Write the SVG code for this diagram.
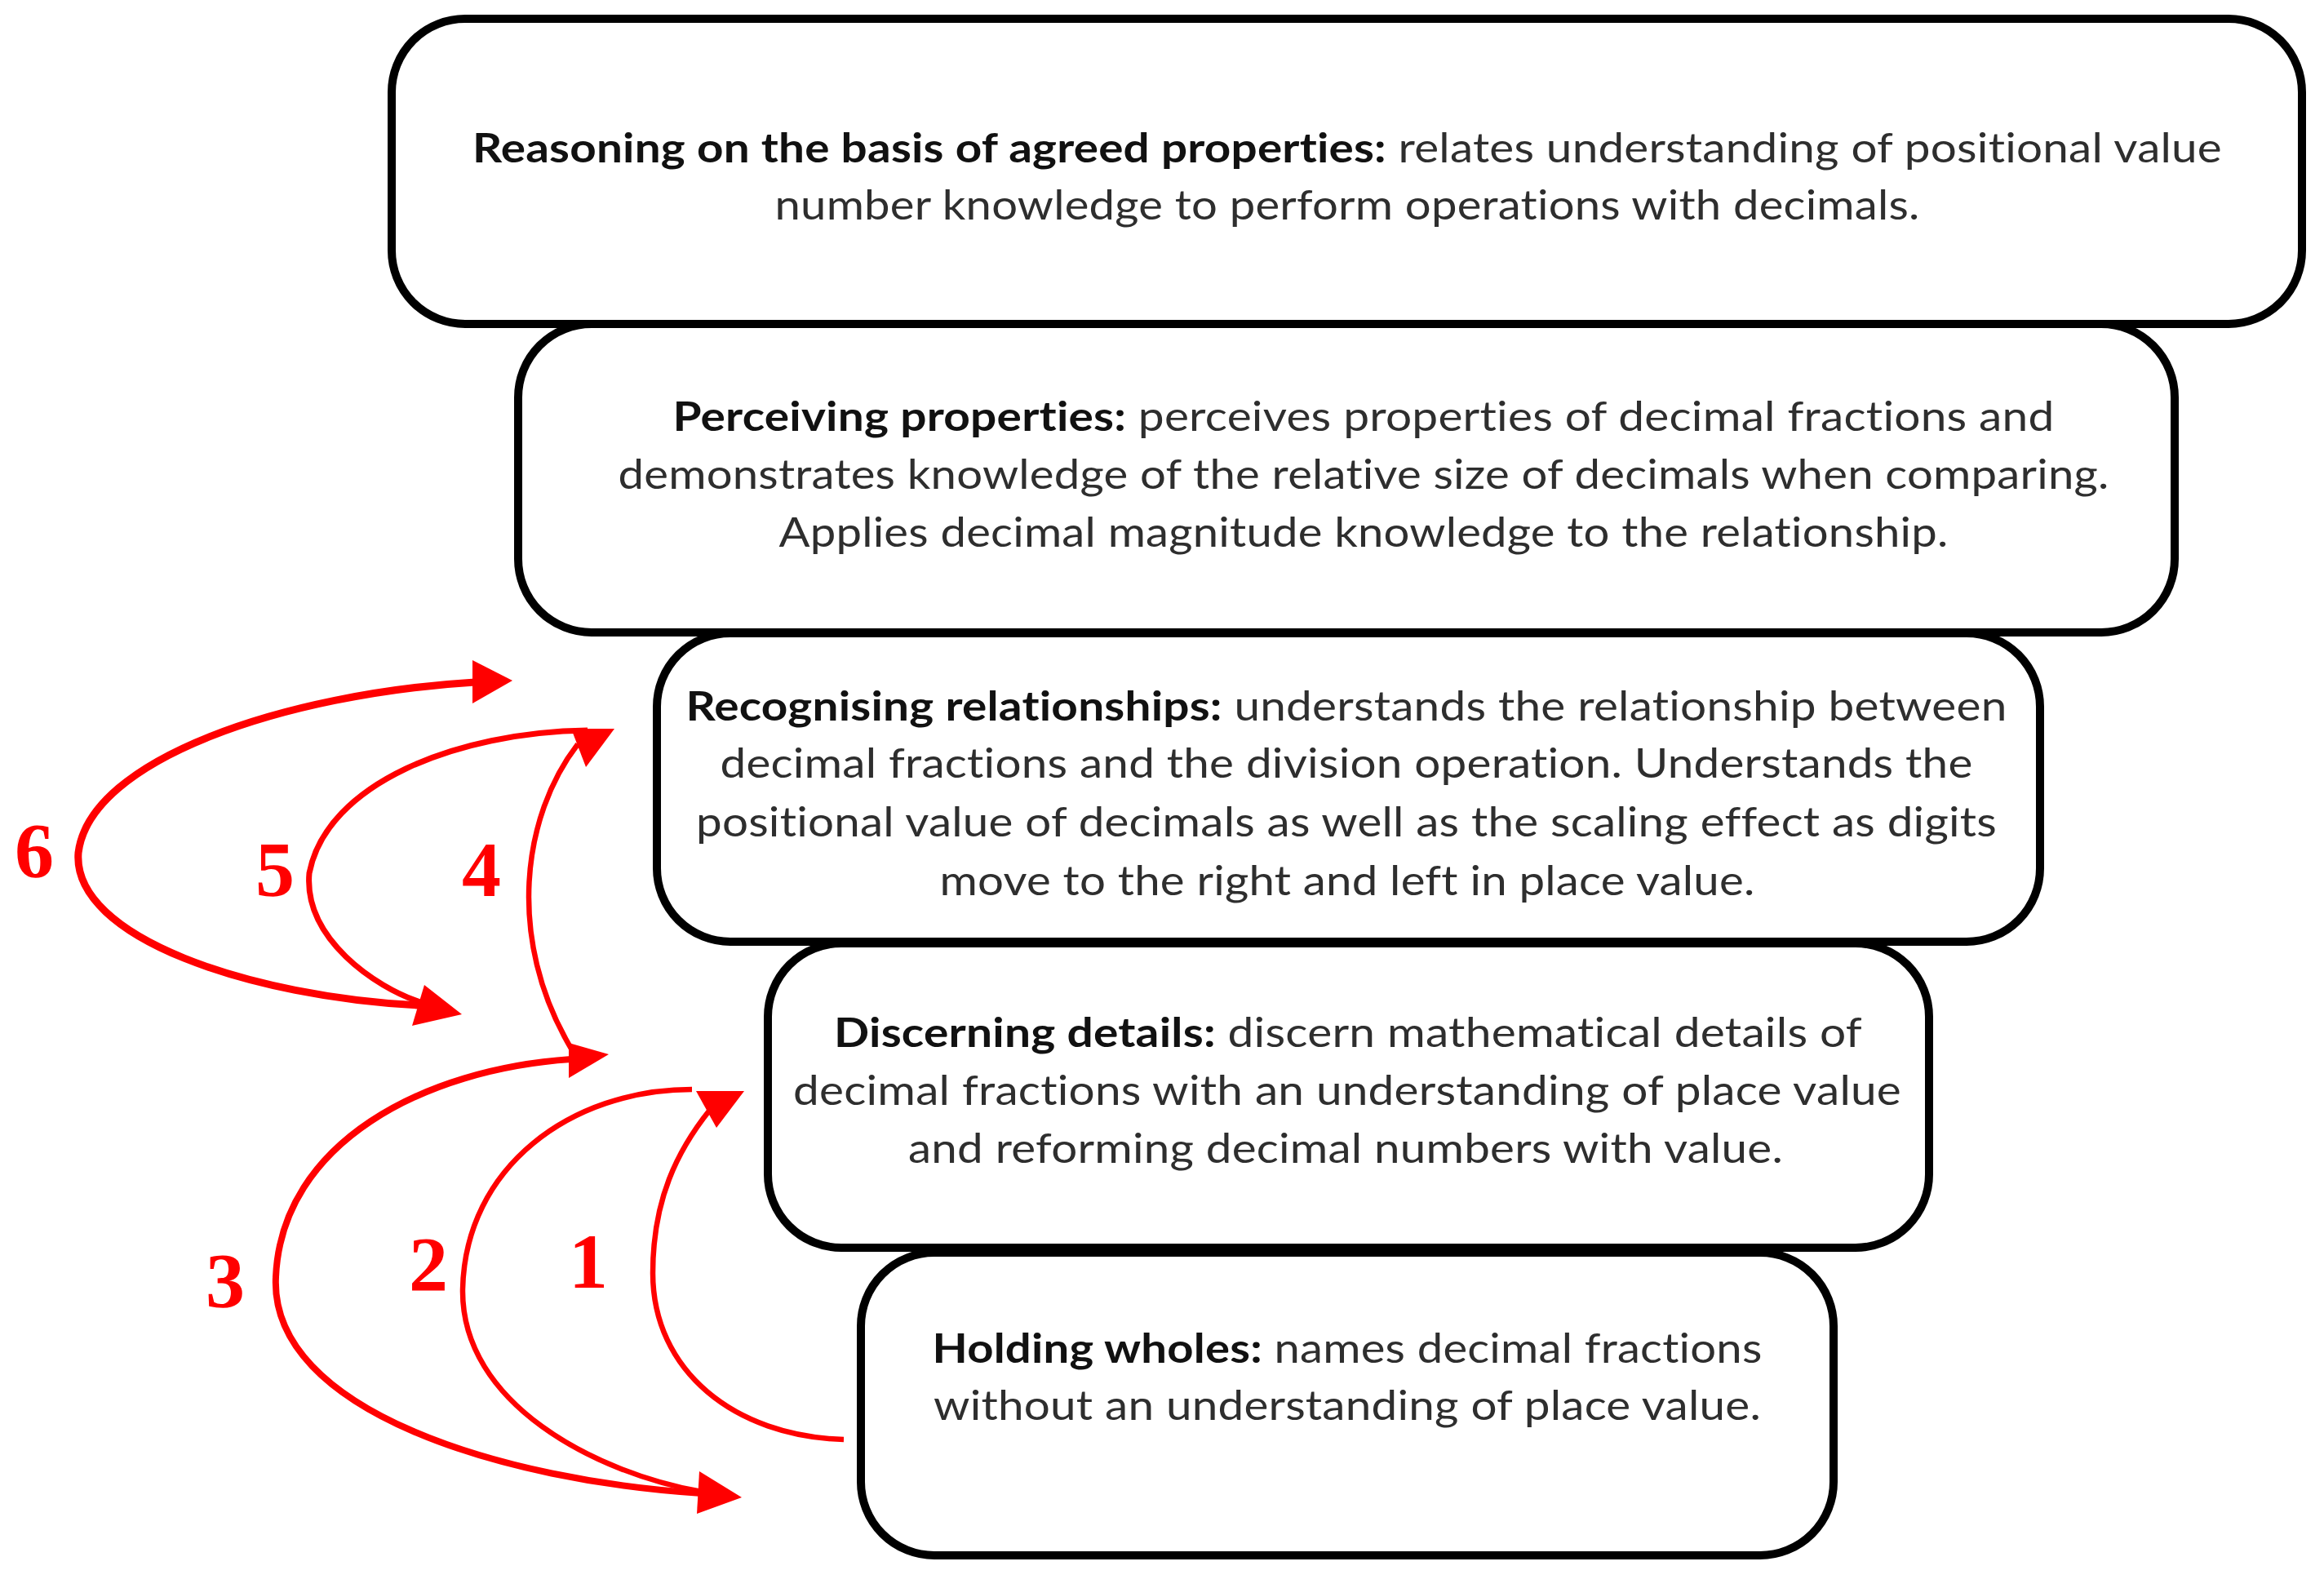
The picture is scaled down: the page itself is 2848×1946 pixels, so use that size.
<svg xmlns="http://www.w3.org/2000/svg" width="2848" height="1946" viewBox="0 0 2848 1946">
<style>
.box{fill:#fff;stroke:#000;stroke-width:10}
.t{font-family:Lato,"Open Sans","Liberation Sans",sans-serif;font-size:50px;fill:#2e2e2e;text-anchor:middle;font-variant-ligatures:none;font-feature-settings:"liga" 0,"clig" 0,"dlig" 0;letter-spacing:0.2px}
.b{font-weight:bold;fill:#111}
.arc{fill:none;stroke:#f00;stroke-linecap:butt}
.hd{fill:#f00;stroke:none}
.num{font-family:"Liberation Serif","Times New Roman",serif;font-weight:bold;font-size:96px;fill:#f00;text-anchor:middle}
</style>
<rect width="2848" height="1946" fill="#fff"/>
<g id="node-reasoning">
<rect class="box" x="480" y="23" width="2341" height="374" rx="90" ry="90"/>
<text class="t" x="1651" y="199" textLength="2144" lengthAdjust="spacingAndGlyphs"><tspan class="b">Reasoning on the basis of agreed properties:</tspan> relates understanding of positional value</text>
<text class="t" x="1651" y="269" textLength="1403" lengthAdjust="spacingAndGlyphs">number knowledge to perform operations with decimals.</text>
</g>
<g id="node-perceiving">
<rect class="box" x="635" y="397" width="2030" height="378" rx="90" ry="90"/>
<text class="t" x="1671" y="528" textLength="1693" lengthAdjust="spacingAndGlyphs"><tspan class="b">Perceiving properties:</tspan> perceives properties of decimal fractions and</text>
<text class="t" x="1671" y="599" textLength="1827" lengthAdjust="spacingAndGlyphs">demonstrates knowledge of the relative size of decimals when comparing.</text>
<text class="t" x="1671" y="670" textLength="1433" lengthAdjust="spacingAndGlyphs">Applies decimal magnitude knowledge to the relationship.</text>
</g>
<g id="node-recognising">
<rect class="box" x="805" y="776" width="1695" height="378" rx="90" ry="90"/>
<text class="t" x="1650" y="883" textLength="1619" lengthAdjust="spacingAndGlyphs"><tspan class="b">Recognising relationships:</tspan> understands the relationship between</text>
<text class="t" x="1650" y="953" textLength="1535" lengthAdjust="spacingAndGlyphs">decimal fractions and the division operation. Understands the</text>
<text class="t" x="1650" y="1025" textLength="1594" lengthAdjust="spacingAndGlyphs">positional value of decimals as well as the scaling effect as digits</text>
<text class="t" x="1651" y="1097" textLength="999" lengthAdjust="spacingAndGlyphs">move to the right and left in place value.</text>
</g>
<g id="node-discerning">
<rect class="box" x="941" y="1156" width="1423" height="373" rx="90" ry="90"/>
<text class="t" x="1652" y="1283" textLength="1260" lengthAdjust="spacingAndGlyphs"><tspan class="b">Discerning details:</tspan> discern mathematical details of</text>
<text class="t" x="1651" y="1354" textLength="1358" lengthAdjust="spacingAndGlyphs">decimal fractions with an understanding of place value</text>
<text class="t" x="1649" y="1425" textLength="1072" lengthAdjust="spacingAndGlyphs">and reforming decimal numbers with value.</text>
</g>
<g id="node-holding">
<rect class="box" x="1055" y="1535" width="1192" height="371" rx="90" ry="90"/>
<text class="t" x="1651" y="1670" textLength="1017" lengthAdjust="spacingAndGlyphs"><tspan class="b">Holding wholes:</tspan> names decimal fractions</text>
<text class="t" x="1651" y="1740" textLength="1014" lengthAdjust="spacingAndGlyphs">without an understanding of place value.</text>
</g>
<g id="connectors">
<path id="arc6" class="arc" stroke-width="9" d="M582,836 C350,850 110,930 96,1045 C88,1150 310,1222 515,1232"/>
<path id="arc5" class="arc" stroke-width="7" d="M720,895 C560,897 400,960 379,1070 C372,1150 460,1210 515,1228"/>
<path id="arc4" class="arc" stroke-width="6.5" d="M708,912 C640,1000 620,1150 700,1285"/>
<path id="arc3" class="arc" stroke-width="8" d="M700,1298 C520,1310 345,1400 338,1565 C330,1730 620,1815 860,1830"/>
<path id="arc2" class="arc" stroke-width="6.5" d="M848,1335 C700,1335 570,1430 567,1580 C565,1720 730,1805 860,1828"/>
<path id="arc1" class="arc" stroke-width="6.5" d="M1034,1764 C900,1760 800,1680 800,1560 C800,1470 830,1410 870,1360"/>
<polygon class="hd" points="579,809 628,834 579,862"/>
<polygon class="hd" points="700,893 753,893 718,940"/>
<polygon class="hd" points="520,1207 566,1243 505,1257"/>
<polygon class="hd" points="697,1278 746,1292 697,1321"/>
<polygon class="hd" points="853,1337 912,1337 878,1382"/>
<polygon class="hd" points="857,1803 909,1835 854,1855"/>
</g>
<g id="labels">
<text class="num" x="42" y="1075">6</text>
<text class="num" x="337" y="1098">5</text>
<text class="num" x="590" y="1098">4</text>
<text class="num" x="276" y="1602">3</text>
<text class="num" x="525" y="1582">2</text>
<text class="num" x="721" y="1578">1</text>
</g>
</svg>
